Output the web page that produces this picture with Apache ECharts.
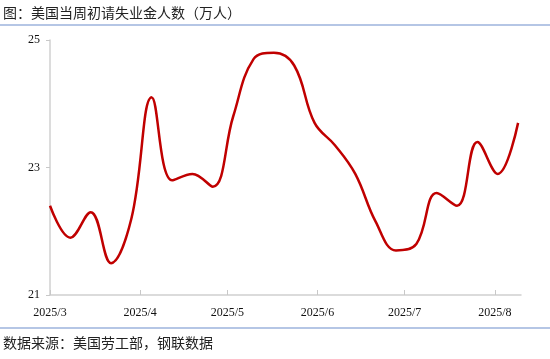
<!DOCTYPE html>
<html><head><meta charset="utf-8">
<script src="https://cdn.jsdelivr.net/npm/echarts@6/dist/echarts.min.js"></script>
<style>html,body{margin:0;padding:0;background:#fff}#c{width:550px;height:359px}</style>
</head><body><div id="c"></div>
<script>
const dates = ['2025-03-01','2025-03-08','2025-03-15','2025-03-22','2025-03-29','2025-04-05','2025-04-12','2025-04-19','2025-04-26','2025-05-03','2025-05-10','2025-05-17','2025-05-24','2025-05-31','2025-06-07','2025-06-14','2025-06-21','2025-06-28','2025-07-05','2025-07-12','2025-07-19','2025-07-26','2025-08-02','2025-08-09'];
const values = [22.4,21.9,22.3,21.5,22.2,24.1,22.8,22.9,22.7,23.8,24.7,24.8,24.6,23.7,23.35,22.9,22.15,21.7,21.8,22.6,22.4,23.4,22.9,23.7];
const monthTicks = ['2025-03-01','2025-04-01','2025-05-01','2025-06-01','2025-07-01','2025-08-01'];
const yTicks = [21,23,25];
const titleText = '图：美国当周初请失业金人数（万人）';
const sourceText = '数据来源：美国劳工部，钢联数据';

const DAY = 86400000;
const t0 = new Date('2025-03-01T00:00:00Z').getTime();
const dnum = s => (new Date(s + 'T00:00:00Z').getTime() - t0) / DAY;
const chart = echarts.init(document.getElementById('c'), null, {renderer:'canvas'});
chart.setOption({
  animation:false,
  backgroundColor:'#fff',
  grid:{left:50,right:29,top:40,bottom:64,containLabel:false},
  graphic:[
    {type:'text',left:3,top:6,style:{text:titleText,font:'14px "Noto Sans CJK SC"',fill:'#222'}},
    {type:'line',shape:{x1:0,y1:25,x2:550,y2:25},style:{stroke:'#9db3dd',lineWidth:1.5}},
    {type:'line',shape:{x1:0,y1:328,x2:550,y2:328},style:{stroke:'#9db3dd',lineWidth:1.5}},
    {type:'text',left:3,top:336,style:{text:sourceText,font:'14px "Noto Sans CJK SC"',fill:'#222'}}
  ],
  xAxis:{
    type:'value',
    min:0,
    max:dnum('2025-08-10'),
    axisLine:{lineStyle:{color:'#d0d0d0',width:1.5}},
    axisTick:{show:true,inside:true,length:5,lineStyle:{color:'#c8c8c8'},customValues:monthTicks.map(dnum)},
    axisLabel:{customValues:monthTicks.map(dnum),color:'#111',fontFamily:'Liberation Serif',fontSize:12,margin:12,
      formatter:v=>{const d=new Date(t0+v*DAY);return d.getUTCFullYear()+'/'+(d.getUTCMonth()+1);}},
    splitLine:{show:false}
  },
  yAxis:{
    type:'value',min:21,max:25,interval:2,
    axisLine:{show:true,lineStyle:{color:'#d0d0d0',width:1.5}},
    axisTick:{show:true,length:4,lineStyle:{color:'#c8c8c8'}},
    axisLabel:{color:'#111',fontFamily:'Liberation Serif',fontSize:12,margin:10,
      formatter:v=>yTicks.includes(v)?String(v):''},
    splitLine:{show:false}
  },
  series:[{
    type:'line',smooth:0.4,symbol:'none',
    lineStyle:{color:'#c00000',width:2.5},
    data:dates.map((d,i)=>[dnum(d),values[i]])
  }]
});
</script></body></html>
